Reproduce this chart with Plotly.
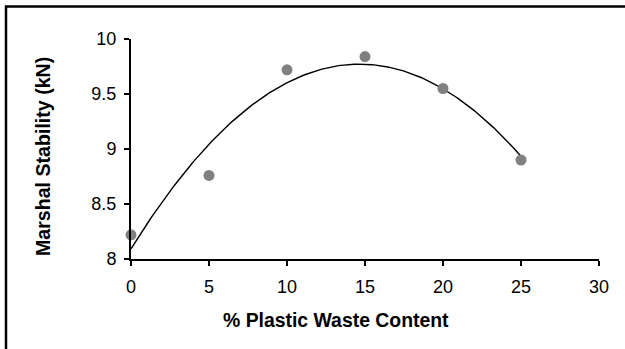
import numpy as np
import plotly.graph_objects as go

plastic_pct = [0, 5, 10, 15, 20, 25]
stability = [8.22, 8.76, 9.72, 9.84, 9.55, 8.90]
x_ticks = [0, 5, 10, 15, 20, 25, 30]
y_ticks = [8, 8.5, 9, 9.5, 10]

# Polynomial (order 2) trendline fitted to the data, as in the source chart
coef = np.polyfit(plastic_pct, stability, 2)
xt = np.linspace(min(plastic_pct), max(plastic_pct), 200)
yt = np.polyval(coef, xt)

FONT = "Liberation Sans, Arial, sans-serif"

fig = go.Figure()
fig.add_trace(go.Scatter(x=xt, y=yt, mode="lines",
                         line=dict(color="black", width=1.4),
                         hoverinfo="skip", showlegend=False))
fig.add_trace(go.Scatter(x=plastic_pct, y=stability, mode="markers",
                         marker=dict(color="#808080", size=11),
                         cliponaxis=False, showlegend=False))

L, R, T, B = 131, 26, 39, 90
W, H = 625, 349
pw, ph = W - L - R, H - T - B

fig.update_layout(
    width=W, height=H,
    margin=dict(l=L, r=R, t=T, b=B),
    paper_bgcolor="white", plot_bgcolor="white",
    font=dict(family=FONT, color="black", size=18),
    xaxis=dict(range=[0, 30], tickvals=x_ticks, showgrid=False, zeroline=False,
               showline=True, linecolor="black", linewidth=2,
               ticks="outside", ticklen=5, tickwidth=1.5, tickcolor="black",
               ticklabelstandoff=5,
               tickfont=dict(size=18, family=FONT)),
    yaxis=dict(range=[8, 10], tickvals=y_ticks, showgrid=False, zeroline=False,
               showline=True, linecolor="black", linewidth=2,
               ticks="outside", ticklen=5, tickwidth=1.5, tickcolor="black",
               ticklabelstandoff=4,
               tickfont=dict(size=18, family=FONT)),
    annotations=[
        dict(text="<b>% Plastic Waste Content</b>", xref="paper", yref="paper",
             x=(336 - L) / pw, y=(H - B - 320) / ph, xanchor="center", yanchor="middle",
             showarrow=False, font=dict(size=19.4, family=FONT)),
        dict(text="<b>Marshal Stability (kN)</b>", xref="paper", yref="paper",
             x=(43 - L) / pw, y=(H - B - 157) / ph, xanchor="center", yanchor="middle",
             textangle=-90, showarrow=False, font=dict(size=19.6, family=FONT)),
    ],
    shapes=[
        dict(type="rect", xref="paper", yref="paper",
             x0=(6 - L) / pw, x1=(640 - L) / pw,
             y0=(H - B - 370) / ph, y1=(H - B - 6.5) / ph,
             line=dict(color="black", width=2.5), fillcolor="rgba(0,0,0,0)", layer="below"),
    ],
)

fig.write_html("out.html")
